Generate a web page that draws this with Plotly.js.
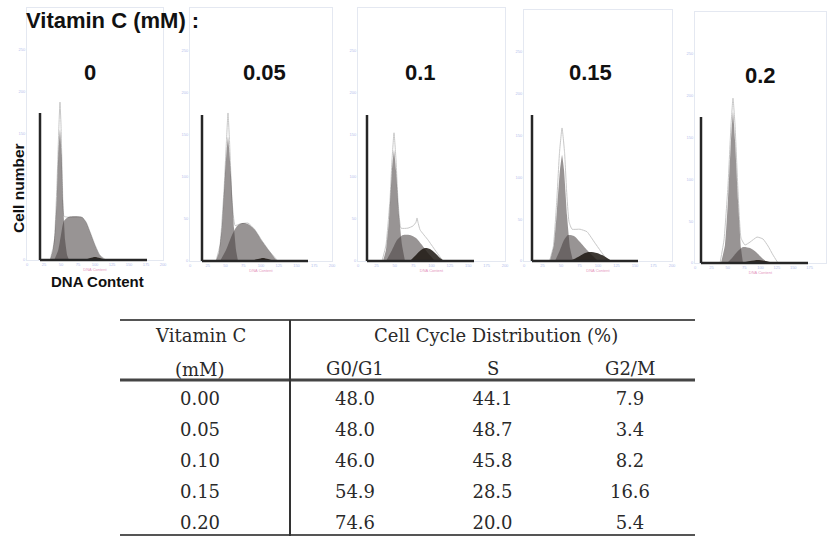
<!DOCTYPE html>
<html><head><meta charset="utf-8">
<script src="https://cdn.plot.ly/plotly-3.0.1.min.js"></script>
<style>html,body{margin:0;padding:0;background:#fff;}#chart{width:829px;height:536px;}</style>
</head><body><div id="chart"></div>
<script>
// ---------- DATA ----------
const panelDoses = ['0', '0.05', '0.1', '0.15', '0.2'];
const frameTickX = [0, 25, 50, 75, 100, 125, 150, 175, 200];
const frameTickY = [0, 50, 100, 150, 200, 250];

// Panel 0 mM
const g1X_1 = [34, 38, 41, 44, 46, 48.5, 51, 53, 56, 59, 62];
const g1Y_1 = [0, 12, 33, 77, 125, 155, 125, 71, 24, 6, 0];
const sX_1 = [40, 46, 50, 54, 60, 71, 81, 87, 93, 100, 107, 115];
const sY_1 = [0, 12, 30, 46, 51, 52, 51, 45, 33, 18, 6, 0];
const g2X_1 = [84, 93, 100, 107, 116];
const g2Y_1 = [0, 2.4, 3.6, 2.4, 0];
const totX_1 = [34, 40, 44, 47, 48.5, 50, 52, 54.4, 60, 81, 87, 93, 100, 107, 116];
const totY_1 = [0, 21, 89, 161, 188, 161, 95, 52, 51, 51, 45, 33, 18, 6, 0];

// Panel 0.05 mM
const g1X_2 = [36.6, 40.8, 45.1, 49.3, 53.5, 57.7, 62, 64.8, 67.6];
const g1Y_2 = [0, 10.7, 42.7, 102, 147, 102, 39, 13, 0];
const sX_2 = [42.3, 50.7, 59.2, 66.2, 73.2, 81.7, 91.5, 101.4, 112.7, 122.5];
const sY_2 = [0, 13, 30.8, 41.5, 45.1, 43.9, 36.8, 23.7, 10.7, 0];
const g2X_2 = [84.5, 95.8, 102.8, 109.9, 119.7];
const g2Y_2 = [0, 2.4, 3.6, 2.4, 0];
const totX_2 = [36.6, 42.3, 47.9, 51.4, 53.5, 55.6, 59.2, 63.4, 70.4, 81.7, 91.5, 101.4, 112.7, 123.9];
const totY_2 = [0, 19, 84, 143, 175.5, 143, 72, 42, 44, 45, 37, 24, 10.7, 0];

// Panel 0.1 mM
const g1X_3 = [34, 38.1, 42.2, 46.3, 49, 51.7, 55.8, 59.9, 63.9];
const g1Y_3 = [0, 13, 48.6, 108, 131.6, 108, 54.5, 19, 0];
const sX_3 = [38.1, 46.3, 53.1, 61.2, 70.7, 78.9, 87.1, 95.2, 104.8];
const sY_3 = [0, 13, 24.9, 30.8, 30.8, 27.3, 19, 9.5, 0];
const g2X_3 = [70.7, 78.9, 85.7, 91.2, 98, 104.8, 111.6, 117];
const g2Y_3 = [0, 7.1, 13, 15.4, 14.2, 9.5, 3.6, 0];
const totX_3 = [32.7, 38.1, 43.5, 46.3, 49, 51.7, 54.4, 58.5, 68, 74.8, 78.9, 80.3, 81.6, 84.4, 95.2, 104.8, 115.6];
const totY_3 = [0, 19, 72, 120, 152, 120, 72, 39, 39, 41.5, 46, 51, 46, 37, 25, 13, 0];

// Panel 0.15 mM
const g1X_4 = [35.1, 40.5, 44.6, 48.6, 51.4, 54.1, 58.1, 62.2, 66.2];
const g1Y_4 = [0, 19.1, 61, 108.8, 126.7, 108.8, 55, 15.5, 0];
const sX_4 = [41.9, 48.6, 54.1, 59.5, 67.6, 75.7, 85.1, 93.2, 100];
const sY_4 = [0, 13.1, 25.1, 31.1, 29.9, 22.7, 13.1, 6, 0];
const g2X_4 = [62.2, 73, 82.4, 89.2, 98.6, 108.1, 118.9];
const g2Y_4 = [0, 4.8, 9.6, 10.8, 9.6, 6, 0];
const totX_4 = [34.5, 39.6, 44, 48, 51.4, 54.8, 57.5, 60.8, 64.9, 75.7, 85.1, 95.9, 105.4, 113.5];
const totY_4 = [0, 17, 68, 130, 159, 130, 85, 47, 38, 38, 35, 21.5, 9.6, 0];

// Panel 0.2 mM
const g1X_5 = [39.7, 45.8, 50.4, 55, 58, 61.1, 65.6, 70.2, 73.3];
const g1Y_5 = [0, 21.5, 75.3, 147, 180.5, 147, 75.3, 17.9, 0];
const sX_5 = [48.9, 56.5, 64.1, 73.3, 84, 93.1, 102.3, 111.5];
const sY_5 = [0, 6, 13.1, 19.1, 17.9, 13.1, 6, 0];
const g2X_5 = [68.7, 84, 96.2, 108.4, 120.6];
const g2Y_5 = [0, 2.4, 3.6, 2.4, 0];
const totX_5 = [38.2, 44.3, 50.4, 55, 58, 61.1, 65.6, 70.2, 76.3, 84, 94.7, 103.8, 111.5, 119.1, 126.7];
const totY_5 = [0, 27.5, 93, 165, 197, 165, 87, 30, 21.5, 25, 31, 28.7, 20.3, 9.6, 0];

// Table
const doseLabels = ['0.00', '0.05', '0.10', '0.15', '0.20'];
const phaseLabels = ['G0/G1', 'S', 'G2/M'];
const g0g1Pct = [48.0, 48.0, 46.0, 54.9, 74.6];
const sPct = [44.1, 48.7, 45.8, 28.5, 20.0];
const g2mPct = [7.9, 3.4, 8.2, 16.6, 5.4];

// ---------- LAYOUT HELPERS ----------
const W = 829, H = 536;
const px = x => x / W, py = y => 1 - y / H;
const frames = [[27,163,8,260],[190,332,8,261],[358,505,8,261],[524,672,10,261],[695,826,12,263]];
const Laxes = [[40,147,113,260],[202,308,115,261],[367,474,115,261],[532,638,115,261],[701,808,117,263]];
const labelPos = [[90,73],[264,73],[420,73],[590,73],[760,76]];

const panels = [
  [g1X_1,g1Y_1,sX_1,sY_1,g2X_1,g2Y_1,totX_1,totY_1],
  [g1X_2,g1Y_2,sX_2,sY_2,g2X_2,g2Y_2,totX_2,totY_2],
  [g1X_3,g1Y_3,sX_3,sY_3,g2X_3,g2Y_3,totX_3,totY_3],
  [g1X_4,g1Y_4,sX_4,sY_4,g2X_4,g2Y_4,totX_4,totY_4],
  [g1X_5,g1Y_5,sX_5,sY_5,g2X_5,g2Y_5,totX_5,totY_5]
];

const traces = [];
const layout = {
  width: W, height: H, margin: {l:0, r:0, t:0, b:0},
  paper_bgcolor: '#fff', plot_bgcolor: 'rgba(0,0,0,0)',
  showlegend: false, shapes: [], annotations: []
};
const phaseFill = 'rgba(72,64,64,0.56)';
const g2Fill = 'rgba(28,22,16,0.85)';

panels.forEach((p, i) => {
  const k = i + 1, sfx = k === 1 ? '' : String(k);
  const xa = 'x' + sfx, ya = 'y' + sfx;
  const common = {xaxis: xa, yaxis: ya, mode: 'lines', hoverinfo: 'skip'};
  traces.push(Object.assign({x: p[6], y: p[7], line: {color: '#c8c8c8', width: 1, shape: 'spline', smoothing: 0.4}}, common));
  traces.push(Object.assign({x: p[0], y: p[1], fill: 'tozeroy', fillcolor: phaseFill, line: {width: 0, shape: 'spline', smoothing: 0.4}}, common));
  traces.push(Object.assign({x: p[2], y: p[3], fill: 'tozeroy', fillcolor: phaseFill, line: {width: 0, shape: 'spline', smoothing: 0.6}}, common));
  traces.push(Object.assign({x: p[4], y: p[5], fill: 'tozeroy', fillcolor: g2Fill, line: {width: 0, shape: 'spline', smoothing: 0.6}}, common));
  const f = frames[i];
  layout['xaxis' + sfx] = {
    domain: [px(f[0]), px(f[1])], range: [0, 200], anchor: ya,
    showline: true, mirror: true, linecolor: '#e4e8f1', linewidth: 1,
    showgrid: false, zeroline: false, ticks: '', fixedrange: true,
    tickvals: frameTickX, ticktext: frameTickX.map(String),
    tickfont: {size: 4, color: '#b4c1ec', family: 'Liberation Sans'},
    title: {text: 'DNA Content', font: {size: 4, color: '#e596bd', family: 'Liberation Sans'}, standoff: 0}
  };
  layout['yaxis' + sfx] = {
    domain: [py(f[3]), py(f[2])], range: [0, 300], anchor: xa,
    showline: true, mirror: true, linecolor: '#e4e8f1', linewidth: 1,
    showgrid: false, zeroline: false, ticks: '', fixedrange: true,
    tickvals: frameTickY, ticktext: frameTickY.map(String),
    tickfont: {size: 4, color: '#b4c1ec', family: 'Liberation Sans'}
  };
  const L = Laxes[i];
  layout.shapes.push({type: 'line', xref: 'paper', yref: 'paper', x0: px(L[0]), x1: px(L[0]), y0: py(L[3]), y1: py(L[2]), line: {color: '#262626', width: 2.5}});
  layout.shapes.push({type: 'line', xref: 'paper', yref: 'paper', x0: px(L[0]), x1: px(L[1]), y0: py(L[3]), y1: py(L[3]), line: {color: '#262626', width: 2.5}});
  layout.annotations.push({text: '<b>' + panelDoses[i] + '</b>', xref: 'paper', yref: 'paper', x: px(labelPos[i][0]), y: py(labelPos[i][1]), xanchor: 'center', yanchor: 'middle', showarrow: false, font: {family: 'Liberation Sans', size: 22, color: '#111'}});
});

// Global labels
layout.annotations.push({text: '<b>Vitamin C (mM) :</b>', xref: 'paper', yref: 'paper', x: px(24), y: py(20), xanchor: 'left', yanchor: 'middle', showarrow: false, font: {family: 'Liberation Sans', size: 22, color: '#111'}});
layout.annotations.push({text: '<b>Cell number</b>', xref: 'paper', yref: 'paper', x: px(18), y: py(188), xanchor: 'center', yanchor: 'middle', textangle: -90, showarrow: false, font: {family: 'Liberation Sans', size: 15.5, color: '#111'}});
layout.annotations.push({text: '<b>DNA Content</b>', xref: 'paper', yref: 'paper', x: px(97), y: py(281), xanchor: 'center', yanchor: 'middle', showarrow: false, font: {family: 'Liberation Sans', size: 15, color: '#111'}});

// ---------- TABLE ----------
const tFont = {family: 'DejaVu Serif', size: 18, color: '#2a2a2a'};
layout.xaxis6 = {domain: [px(130), px(270)], type: 'category', categoryarray: ['dose'], range: [-0.5, 0.5], anchor: 'y6', visible: false, fixedrange: true};
layout.xaxis7 = {domain: [px(286.25), px(698.75)], type: 'category', categoryarray: phaseLabels, range: [-0.5, 2.5], anchor: 'y6', visible: false, fixedrange: true};
layout.yaxis6 = {domain: [py(536), py(383)], type: 'category', categoryarray: doseLabels, range: [(536 - 400) / 31, (383 - 400) / 31], anchor: 'x6', visible: false, fixedrange: true};

traces.push({x: doseLabels.map(() => 'dose'), y: doseLabels, text: doseLabels, mode: 'text', textposition: 'middle center', textfont: tFont, xaxis: 'x6', yaxis: 'y6', hoverinfo: 'skip', cliponaxis: false});
const colVals = [g0g1Pct, sPct, g2mPct];
phaseLabels.forEach((ph, j) => {
  traces.push({x: doseLabels.map(() => ph), y: doseLabels, text: colVals[j].map(v => v.toFixed(1)), mode: 'text', textposition: 'middle center', textfont: tFont, xaxis: 'x7', yaxis: 'y6', hoverinfo: 'skip', cliponaxis: false});
  layout.annotations.push({text: ph, xref: 'x7', yref: 'paper', x: j, y: py(368), xanchor: 'center', yanchor: 'middle', showarrow: false, font: tFont});
});
layout.annotations.push({text: 'Vitamin C', xref: 'paper', yref: 'paper', x: px(200), y: py(335), xanchor: 'center', yanchor: 'middle', showarrow: false, font: tFont});
layout.annotations.push({text: '(mM)', xref: 'paper', yref: 'paper', x: px(200), y: py(369), xanchor: 'center', yanchor: 'middle', showarrow: false, font: tFont});
layout.annotations.push({text: 'Cell Cycle Distribution (%)', xref: 'paper', yref: 'paper', x: px(496), y: py(335), xanchor: 'center', yanchor: 'middle', showarrow: false, font: tFont});

// table rules
const rule = (x0, x1, y0, y1, w, c) => ({type: 'line', xref: 'paper', yref: 'paper', x0: px(x0), x1: px(x1), y0: py(y0), y1: py(y1), line: {color: c, width: w}});
layout.shapes.push(rule(120, 695, 320, 320, 2, '#555'));
layout.shapes.push(rule(120, 695, 380, 380, 3, '#444'));
layout.shapes.push(rule(120, 695, 535, 535, 2, '#555'));
layout.shapes.push(rule(290, 290, 320, 536, 2, '#333'));

Plotly.newPlot('chart', traces, layout, {staticPlot: true, displayModeBar: false});
</script>
</body></html>
